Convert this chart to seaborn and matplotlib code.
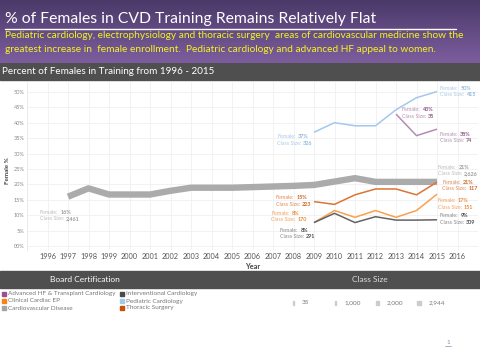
import numpy as np
import pandas as pd
import seaborn as sns
import matplotlib.pyplot as plt
from matplotlib.colors import LinearSegmentedColormap
from matplotlib.patches import Rectangle
from matplotlib.lines import Line2D

# ---- data ----
cert_names = ["Advanced HF & Transplant Cardiology", "Clinical Cardiac EP", "Cardiovascular Disease",
              "Interventional Cardiology", "Pediatric Cardiology", "Thoracic Surgery"]

cvd_years = list(range(1997, 2016))
cvd_pct = [16.0, 18.7, 16.7, 16.7, 16.7, 17.9, 18.9, 18.9, 18.9, 19.1, 19.3, 19.5, 19.8, 20.9, 22.0, 20.8, 20.8, 20.8, 20.8]

sub_years = list(range(2009, 2016))
peds_pct = [36.9, 40.0, 39.0, 39.0, 44.2, 48.1, 50.1]
thor_pct = [14.4, 13.5, 16.6, 18.5, 18.5, 16.6, 20.7]
ep_pct = [7.6, 11.5, 9.3, 11.5, 9.3, 11.5, 16.8]
intv_pct = [7.6, 10.6, 7.6, 9.5, 8.4, 8.4, 8.5]

hf_years = [2013, 2014, 2015]
hf_pct = [42.8, 35.8, 37.9]

# first / last labels: (female %, class size)
start_labels = {"Cardiovascular Disease": ("16%", "2,461"), "Pediatric Cardiology": ("37%", "326"),
                "Advanced HF & Transplant Cardiology": ("43%", "35"), "Thoracic Surgery": ("15%", "223"),
                "Clinical Cardiac EP": ("8%", "170"), "Interventional Cardiology": ("8%", "291")}
end_labels = {"Cardiovascular Disease": ("21%", "2,626"), "Pediatric Cardiology": ("50%", "415"),
              "Advanced HF & Transplant Cardiology": ("38%", "74"), "Thoracic Surgery": ("21%", "117"),
              "Clinical Cardiac EP": ("17%", "151"), "Interventional Cardiology": ("9%", "309")}

size_legend = ["35", "1,000", "2,000", "2,944"]

rows = []
for yr, v in zip(cvd_years, cvd_pct):
    rows.append((yr, v, "Cardiovascular Disease"))
for name, vals in [("Pediatric Cardiology", peds_pct), ("Thoracic Surgery", thor_pct),
                   ("Clinical Cardiac EP", ep_pct), ("Interventional Cardiology", intv_pct)]:
    for yr, v in zip(sub_years, vals):
        rows.append((yr, v, name))
for yr, v in zip(hf_years, hf_pct):
    rows.append((yr, v, "Advanced HF & Transplant Cardiology"))
df = pd.DataFrame(rows, columns=["Year", "Female %", "Board Certification"])

# ---- styling ----
line_colors = {"Advanced HF & Transplant Cardiology": "#b58cb2", "Clinical Cardiac EP": "#f7a24f",
               "Cardiovascular Disease": "#ababab", "Interventional Cardiology": "#636363",
               "Pediatric Cardiology": "#a3c8ec", "Thoracic Surgery": "#dc7435"}
swatch_colors = {"Advanced HF & Transplant Cardiology": "#9b4f93", "Clinical Cardiac EP": "#ff800e",
                 "Cardiovascular Disease": "#a5a5a5", "Interventional Cardiology": "#4b4b4b",
                 "Pediatric Cardiology": "#a0cbe8", "Thoracic Surgery": "#c84f0c"}
label_colors = {"Advanced HF & Transplant Cardiology": ("#b594b2", "#8f5a8a"),
                "Clinical Cardiac EP": ("#f5a35d", "#ee8a3a"),
                "Cardiovascular Disease": ("#bdbdbd", "#9a9a9a"),
                "Interventional Cardiology": ("#8a8a8a", "#4a4a4a"),
                "Pediatric Cardiology": ("#a9cbea", "#8fb8e0"),
                "Thoracic Surgery": ("#e08a55", "#d0662a")}
line_sizes = {n: 1.1 for n in cert_names}
line_sizes["Cardiovascular Disease"] = 4.6

# label offsets in pixels (left edge, centre of first line) from the data point; +dy = down
start_off = {"Cardiovascular Disease": (-28, 15.5), "Pediatric Cardiology": (-37, 4.5),
             "Advanced HF & Transplant Cardiology": (6, -4.3), "Thoracic Surgery": (-38, -4),
             "Clinical Cardiac EP": (-43, -9.5), "Interventional Cardiology": (-34, 8)}
end_off = {"Cardiovascular Disease": (1, -14.6), "Pediatric Cardiology": (3, -3.4),
           "Advanced HF & Transplant Cardiology": (2.5, 5), "Thoracic Surgery": (5.5, 0),
           "Clinical Cardiac EP": (0.5, 6.7), "Interventional Cardiology": (3, -4)}

sns.set_theme(style="white")
plt.rcParams["font.family"] = ["Lato", "DejaVu Sans"]

W, H = 480, 360
fig = plt.figure(figsize=(4.8, 3.6), dpi=100)


def fx(x):
    return x / W


def fy(y):
    return 1 - y / H


# header with purple gradient
hax = fig.add_axes([0, fy(63), 1, 63 / H])
grad = LinearSegmentedColormap.from_list("hdr", ["#4a3a69", "#7d5d9e"])
hax.imshow(np.linspace(0, 1, 64).reshape(-1, 1), cmap=grad, aspect="auto", extent=[0, 1, 0, 1])
hax.axis("off")
fig.text(fx(5), fy(19), "% of Females in CVD Training Remains Relatively Flat", color="white",
         fontsize=11.3, va="center", ha="left")
fig.add_artist(Line2D([fx(5), fx(456)], [fy(28.5), fy(28.5)], color="white", lw=1))
yel = "#f4f41e"
fig.text(fx(5), fy(36), "Pediatric cardiology, electrophysiology and thoracic surgery  areas of cardiovascular medicine show the",
         color=yel, fontsize=7.3, va="center", ha="left")
fig.text(fx(5), fy(49.5), "greatest increase in  female enrollment.  Pediatric cardiology and advanced HF appeal to women.",
         color=yel, fontsize=7.3, va="center", ha="left")

# dark bars
fig.add_artist(Rectangle((0, fy(80)), 1, 17 / H, transform=fig.transFigure, color="#4f4f4f", zorder=0))
fig.text(fx(2), fy(71.5), "Percent of Females in Training from 1996 - 2015", color="white", fontsize=7.1,
         va="center", ha="left")
fig.add_artist(Rectangle((0, fy(288)), 1, 17 / H, transform=fig.transFigure, color="#4f4f4f", zorder=0))
fig.text(fx(85), fy(280), "Board Certification", color="white", fontsize=6, va="center", ha="center")
fig.text(fx(370), fy(280), "Class Size", color="#dddddd", fontsize=6, va="center", ha="center")

# main chart
ax = fig.add_axes([fx(27), fy(250), fx(478 - 27), (250 - 82) / H])
sns.lineplot(data=df, x="Year", y="Female %", hue="Board Certification", size="Board Certification",
             palette=line_colors, sizes=line_sizes, legend=False, ax=ax, solid_capstyle="butt")
ax.set_xlim(1995, 2017)
ax.set_ylim(-1.3, 53.2)
ax.set_xticks(range(1996, 2017))
ax.set_xticklabels([str(y) for y in range(1996, 2017)], fontsize=5.3, color="#555555")
ax.set_yticks(range(0, 51, 5))
ax.set_yticklabels([f"{v:02d}%" if v == 0 else f"{v}%" for v in range(0, 51, 5)], fontsize=4.0, color="#888888")
ax.tick_params(axis="both", length=0, pad=2)
ax.grid(True, color="#f0f0f0", lw=0.6)
for s in ["top", "right", "bottom"]:
    ax.spines[s].set_visible(False)
ax.spines["left"].set_color("#e6e6e6")
ax.spines["left"].set_linewidth(0.6)
ax.set_xlabel("Year", fontsize=5.3, fontweight="bold", color="#444444")
ax.xaxis.set_label_coords(0.5, -0.08)
ax.set_ylabel("Female %", fontsize=4.5, fontweight="bold", color="#444444")
ax.yaxis.set_label_coords(-0.037, 0.47)


def point_label(name, x, y, vals, off):
    dx, dy = off
    c_txt, c_num = label_colors[name]
    for i, (key, val) in enumerate([("Female:", vals[0]), ("Class Size:", vals[1])]):
        t = ax.annotate(key, (x, y), xytext=(dx, -(dy + i * 6.4)), textcoords="offset pixels",
                        ha="left", va="center", fontsize=3.9, color=c_txt)
        ax.annotate(val, (1, 0.5), xycoords=t, xytext=(2, 0), textcoords="offset pixels",
                    ha="left", va="center", fontsize=3.9, color=c_num, fontweight="bold")


for name, grp in df.groupby("Board Certification"):
    grp = grp.sort_values("Year")
    first, last = grp.iloc[0], grp.iloc[-1]
    point_label(name, first["Year"], first["Female %"], start_labels[name], start_off[name])
    point_label(name, last["Year"], last["Female %"], end_labels[name], end_off[name])

# board certification legend
legend_pos = [(2, 294), (2, 301), (2, 308), (120, 294), (120, 301), (120, 308)]
for name, (lx, ly) in zip(cert_names, legend_pos):
    fig.add_artist(Rectangle((fx(lx), fy(ly + 2)), fx(4), 4 / H, transform=fig.transFigure,
                             color=swatch_colors[name]))
    fig.text(fx(lx + 6), fy(ly), name, fontsize=4.6, color="#777777", va="center", ha="left")

# class size legend
size_pos = [(293, 0.6), (335, 1.4), (376, 2.6), (417, 4)]
for lbl, (sx, sw) in zip(size_legend, size_pos):
    fig.add_artist(Rectangle((fx(sx), fy(304.5)), fx(sw), 4 / H, transform=fig.transFigure, color="#cccccc"))
    fig.text(fx(sx + sw + 8), fy(302.5), lbl, fontsize=4.6, color="#777777", va="center", ha="left")

fig.text(fx(448), fy(343), "1", fontsize=4.5, color="#8090a8", va="center", ha="center")
fig.add_artist(Line2D([fx(445), fx(451)], [fy(346), fy(346)], color="#8090a8", lw=0.5))

fig.savefig("out.png", dpi=100)
